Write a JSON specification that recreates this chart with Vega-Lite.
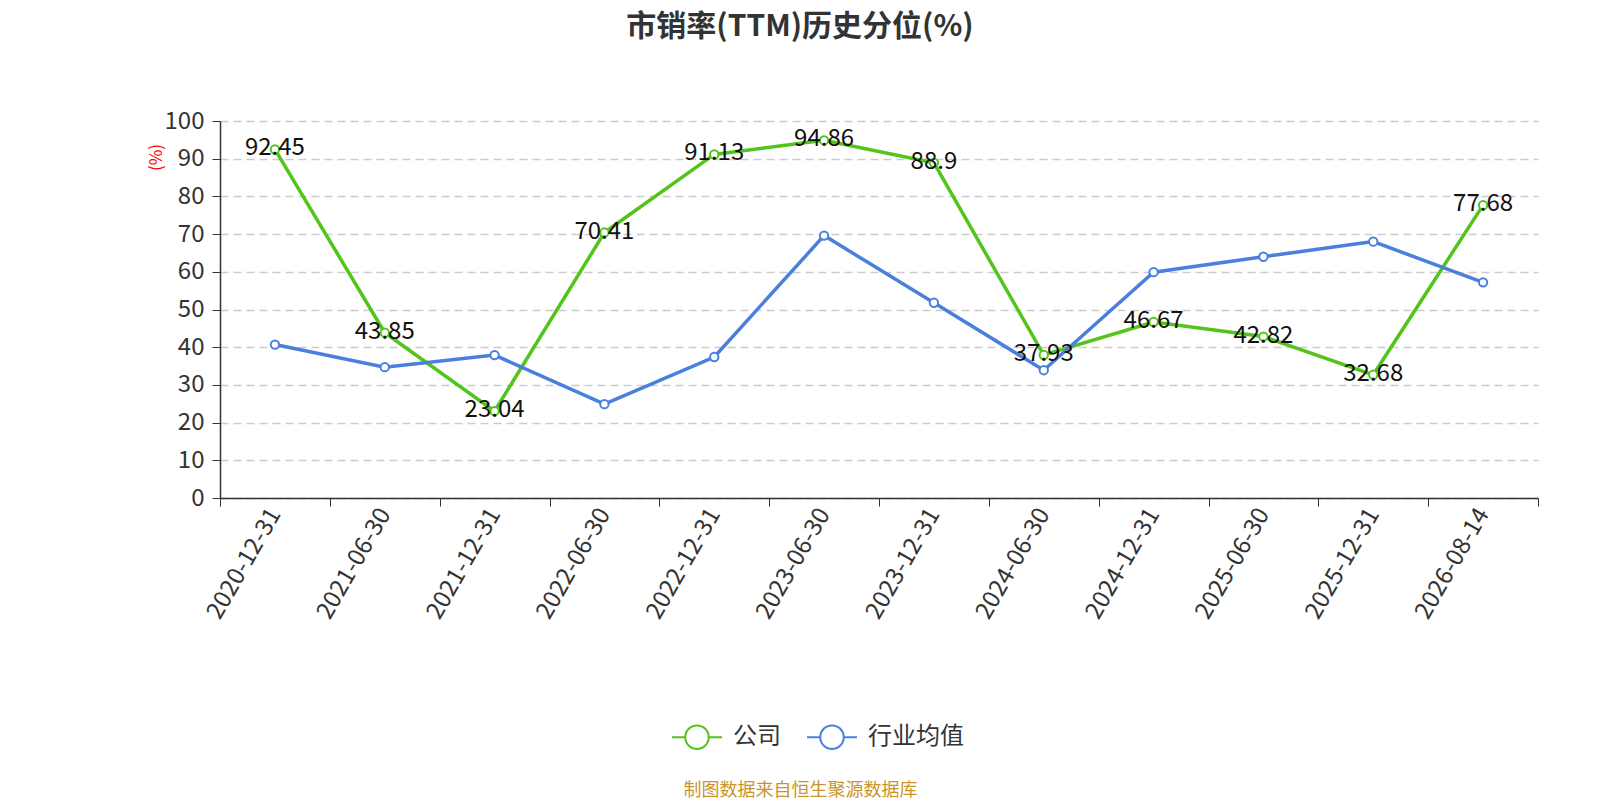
{
  "$schema": "https://vega.github.io/schema/vega-lite/v6.json",
  "width": 1318,
  "height": 377,
  "autosize": {"type": "none"},
  "padding": {"left": 220, "top": 121, "right": 62, "bottom": 302},
  "background": "white",
  "title": {
    "text": "市销率(TTM)历史分位(%)",
    "fontSize": 30,
    "fontWeight": "bold",
    "color": "#333333",
    "font": "Noto Sans CJK SC",
    "anchor": "middle",
    "dx": -79,
    "offset": 67
  },
  "data": {
    "values": [
      {"date": "2020-12-31", "series": "公司", "value": 92.45},
      {"date": "2021-06-30", "series": "公司", "value": 43.85},
      {"date": "2021-12-31", "series": "公司", "value": 23.04},
      {"date": "2022-06-30", "series": "公司", "value": 70.41},
      {"date": "2022-12-31", "series": "公司", "value": 91.13},
      {"date": "2023-06-30", "series": "公司", "value": 94.86},
      {"date": "2023-12-31", "series": "公司", "value": 88.9},
      {"date": "2024-06-30", "series": "公司", "value": 37.93},
      {"date": "2024-12-31", "series": "公司", "value": 46.67},
      {"date": "2025-06-30", "series": "公司", "value": 42.82},
      {"date": "2025-12-31", "series": "公司", "value": 32.68},
      {"date": "2026-08-14", "series": "公司", "value": 77.68},
      {"date": "2020-12-31", "series": "行业均值", "value": 40.7},
      {"date": "2021-06-30", "series": "行业均值", "value": 34.7},
      {"date": "2021-12-31", "series": "行业均值", "value": 37.9},
      {"date": "2022-06-30", "series": "行业均值", "value": 24.9},
      {"date": "2022-12-31", "series": "行业均值", "value": 37.4},
      {"date": "2023-06-30", "series": "行业均值", "value": 69.6},
      {"date": "2023-12-31", "series": "行业均值", "value": 51.8},
      {"date": "2024-06-30", "series": "行业均值", "value": 33.9},
      {"date": "2024-12-31", "series": "行业均值", "value": 59.9},
      {"date": "2025-06-30", "series": "行业均值", "value": 64.0},
      {"date": "2025-12-31", "series": "行业均值", "value": 68.0},
      {"date": "2026-08-14", "series": "行业均值", "value": 57.2}
    ]
  },
  "encoding": {
    "x": {
      "field": "date",
      "type": "nominal",
      "sort": null,
      "scale": {"type": "band", "paddingInner": 0, "paddingOuter": 0},
      "axis": {
        "tickBand": "extent",
        "labelAngle": -60,
        "labelFontSize": 24,
        "labelColor": "#333333",
        "labelPadding": 4,
        "tickSize": 8,
        "tickColor": "#333333",
        "domainColor": "#333333",
        "domainWidth": 1.5,
        "grid": false,
        "title": "制图数据来自恒生聚源数据库",
        "titleColor": "#c9952b",
        "titleFontSize": 18,
        "titleFontWeight": "normal",
        "titleX": 580,
        "titleY": 292,
        "titleAlign": "center",
        "titleBaseline": "middle"
      }
    },
    "y": {
      "field": "value",
      "type": "quantitative",
      "scale": {"domain": [0, 100], "nice": false},
      "axis": {
        "values": [0, 10, 20, 30, 40, 50, 60, 70, 80, 90, 100],
        "labelFontSize": 24,
        "labelColor": "#333333",
        "labelPadding": 8,
        "tickSize": 8,
        "tickColor": "#333333",
        "domainColor": "#333333",
        "domainWidth": 1.5,
        "grid": true,
        "gridDash": [8, 5],
        "gridColor": "#cccccc",
        "gridWidth": 1.5,
        "title": "(%)",
        "titleColor": "#ff0000",
        "titleFontSize": 17,
        "titleFontWeight": "normal",
        "titleAngle": -90,
        "titleX": -64,
        "titleY": 36,
        "titleAlign": "center",
        "titleBaseline": "middle"
      }
    }
  },
  "layer": [
    {
      "mark": {"type": "line", "strokeWidth": 3.5},
      "encoding": {
        "stroke": {
          "field": "series",
          "type": "nominal",
          "scale": {"domain": ["公司", "行业均值"], "range": ["#52c41a", "#4a7fde"]},
          "legend": {
            "orient": "none",
            "legendX": 451,
            "legendY": 590,
            "direction": "horizontal",
            "title": null,
            "symbolType": "M-1,0L-0.47,0M0.47,0L1,0M-0.47,0A0.47,0.47,0,1,1,0.47,0A0.47,0.47,0,1,1,-0.47,0",
            "symbolSize": 2500,
            "symbolStrokeWidth": 2,
            "symbolFillColor": "#ffffff",
            "labelFontSize": 24,
            "labelColor": "#333333",
            "labelFont": "Noto Sans CJK SC",
            "labelOffset": 10,
            "columnPadding": 22
          }
        }
      }
    },
    {
      "mark": {"type": "point", "filled": true, "fill": "#ffffff", "size": 70, "strokeWidth": 2, "opacity": 1},
      "encoding": {
        "stroke": {"field": "series", "type": "nominal"}
      }
    },
    {
      "transform": [{"filter": "datum.series === '公司'"}],
      "mark": {"type": "text", "fontSize": 24, "color": "#111111", "baseline": "middle", "align": "center", "dy": -1, "font": "Noto Sans CJK SC"},
      "encoding": {
        "text": {"field": "value", "type": "quantitative"}
      }
    }
  ],
  "config": {
    "font": "Noto Sans CJK SC",
    "view": {"stroke": null}
  }
}
